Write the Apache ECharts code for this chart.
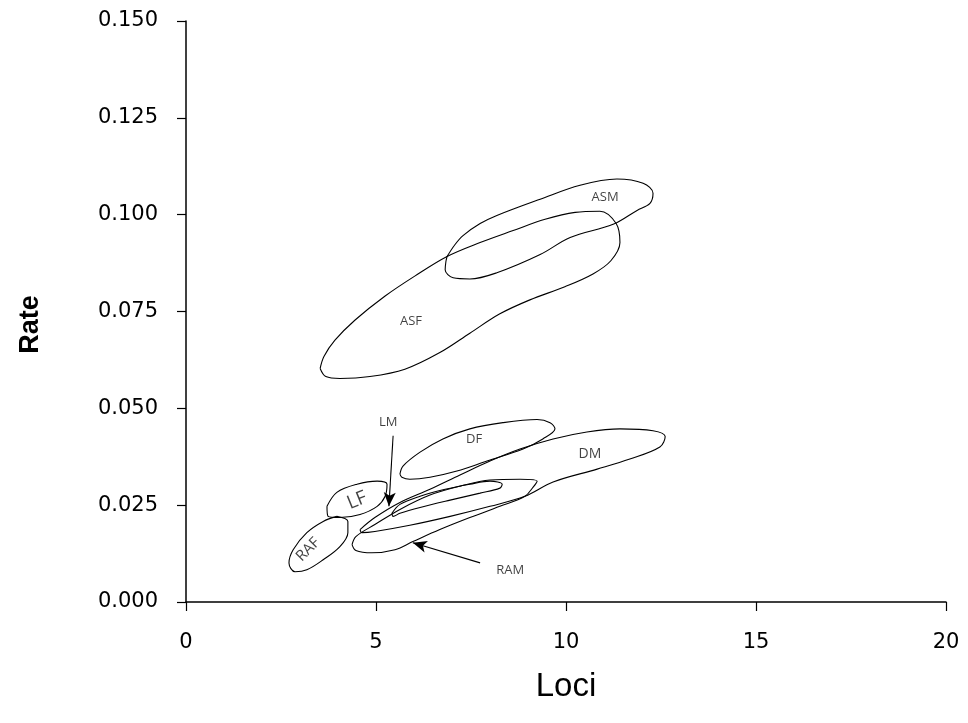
<!DOCTYPE html>
<html>
<head>
<meta charset="utf-8">
<script src="https://cdn.jsdelivr.net/npm/echarts@6/dist/echarts.min.js"></script>
<style>
  html, body { margin: 0; padding: 0; background: #fff; }
  #chart { width: 968px; height: 723px; }
</style>
</head>
<body>
<div id="chart"></div>
<script>
// outlines of each group, [loci, rate] pairs, closed
const asf = [[3.53,0.0603],[3.63,0.0634],[3.92,0.0676],[4.45,0.0728],[5.24,0.0790],[6.03,0.0842],[6.87,0.0892],[7.74,0.0928],[8.61,0.0959],[9.45,0.0988],[10.24,0.1006],[10.89,0.1009],[11.32,0.0977],[11.42,0.0928],[11.18,0.0881],[10.71,0.0847],[9.97,0.0814],[9.05,0.0780],[8.26,0.0744],[7.47,0.0694],[6.68,0.0644],[5.76,0.0601],[4.84,0.0582],[4.05,0.0577],[3.68,0.0582],[3.53,0.0603]]
const asm = [[6.87,0.0892],[7.08,0.0923],[7.29,0.0946],[7.74,0.0977],[8.18,0.0998],[9.32,0.1040],[10.37,0.1076],[11.34,0.1092],[12.03,0.1081],[12.29,0.1055],[12.21,0.1029],[11.87,0.1011],[11.24,0.0975],[10.11,0.0941],[9.32,0.0897],[8.18,0.0850],[7.47,0.0834],[7.03,0.0837],[6.82,0.0858],[6.84,0.0879],[6.87,0.0892]]
const df = [[5.63,0.0330],[5.71,0.0351],[6.16,0.0387],[6.76,0.0421],[7.47,0.0447],[8.34,0.0463],[9.24,0.0471],[9.58,0.0463],[9.71,0.0447],[9.39,0.0421],[8.87,0.0395],[7.92,0.0364],[7.13,0.0338],[6.42,0.0322],[5.89,0.0317],[5.68,0.0322],[5.63,0.0330]]
const dm = [[4.58,0.0187],[4.97,0.0218],[5.63,0.0257],[6.42,0.0291],[7.21,0.0328],[8.00,0.0364],[8.79,0.0395],[9.66,0.0421],[10.55,0.0439],[11.42,0.0447],[12.29,0.0442],[12.61,0.0427],[12.47,0.0400],[11.68,0.0369],[10.82,0.0343],[9.66,0.0310],[8.92,0.0273],[8.00,0.0247],[6.95,0.0221],[5.89,0.0198],[4.97,0.0182],[4.63,0.0179],[4.58,0.0187]]
const lm = [[5.42,0.0229],[5.63,0.0252],[6.16,0.0273],[6.82,0.0291],[7.47,0.0304],[8.00,0.0312],[8.32,0.0304],[8.26,0.0294],[7.74,0.0281],[6.95,0.0263],[6.16,0.0244],[5.63,0.0229],[5.45,0.0221],[5.42,0.0229]]
const ram = [[4.37,0.0148],[4.47,0.0169],[4.97,0.0200],[5.63,0.0239],[6.42,0.0276],[7.21,0.0299],[8.00,0.0315],[8.79,0.0317],[9.24,0.0312],[9.13,0.0296],[8.92,0.0273],[8.26,0.0247],[7.47,0.0218],[6.68,0.0187],[5.97,0.0156],[5.50,0.0135],[4.89,0.0127],[4.47,0.0133],[4.37,0.0148]]
const lf = [[3.71,0.0247],[3.97,0.0283],[4.50,0.0304],[5.03,0.0312],[5.29,0.0304],[5.24,0.0273],[5.03,0.0247],[4.58,0.0226],[4.05,0.0218],[3.74,0.0221],[3.71,0.0247]]
const raf = [[3.97,0.0221],[4.26,0.0208],[4.26,0.0179],[4.05,0.0143],[3.61,0.0109],[3.18,0.0083],[2.87,0.0078],[2.71,0.0101],[2.82,0.0135],[3.18,0.0179],[3.61,0.0208],[3.97,0.0221]]

// group labels: name, loci, rate, rotation, size
const labelNames = ['ASM', 'ASF', 'LM', 'DF', 'DM', 'LF', 'RAF', 'RAM']
const labelPos = [[11.03,0.1045],[5.92,0.0725],[5.32,0.0463],[7.58,0.0421],[10.63,0.0382],[4.50,0.0262],[3.21,0.0135],[8.53,0.0083]]
const labelRot = [0, 0, 0, 0, 0, 22, 45, 0]
const labelSize = [13, 13, 13, 13, 14, 19, 15, 13]

// pointer arrows: from label to outline
const arrowLines = [[[5.45,0.0429],[5.34,0.0247]], [[7.74,0.0101],[5.97,0.0153]]]

const xTicks = { min: 0, max: 20, interval: 5 }
const yTicks = { min: 0, max: 0.15, interval: 0.025 }

const outlines = [asf, asm, df, dm, lm, ram, lf, raf]

const chart = echarts.init(document.getElementById('chart'))

const outlineSeries = outlines.map(pts => ({
	type: 'line',
	data: pts,
	smooth: 0.35,
	symbol: 'none',
	silent: true,
	lineStyle: { color: '#000', width: 1.1 }
}))

const option = {
	animation: false,
	backgroundColor: '#fff',
	grid: { left: 186, right: 22, top: 21, bottom: 121 },
	xAxis: {
		type: 'value',
		min: xTicks.min,
		max: xTicks.max,
		interval: xTicks.interval,
		name: 'Loci',
		nameLocation: 'middle',
		nameGap: 68,
		nameTextStyle: { color: '#000', fontSize: 33, fontFamily: 'Liberation Sans' },
		axisLine: { lineStyle: { color: '#000', width: 1.5 } },
		axisTick: { inside: false, length: 9, lineStyle: { color: '#000', width: 1.2 } },
		axisLabel: { color: '#000', fontSize: 21, margin: 30, fontFamily: 'DejaVu Sans' },
		splitLine: { show: false }
	},
	yAxis: {
		type: 'value',
		min: yTicks.min,
		max: yTicks.max,
		interval: yTicks.interval,
		name: 'Rate',
		nameLocation: 'middle',
		nameGap: 142,
		nameRotate: 90,
		nameTextStyle: { color: '#000', fontSize: 27, fontWeight: 'bold', fontFamily: 'Liberation Sans', padding: [0, 26, 0, 0] },
		axisLine: { lineStyle: { color: '#000', width: 1.5 } },
		axisTick: { inside: false, length: 9, lineStyle: { color: '#000', width: 1.2 } },
		axisLabel: {
			color: '#000', fontSize: 21, margin: 28, fontFamily: 'DejaVu Sans',
			formatter: v => v.toFixed(3)
		},
		splitLine: { show: false }
	},
	series: [
		...outlineSeries,
		{
			type: 'line',
			data: [],
			symbol: 'none',
			silent: true,
			markLine: {
				silent: true,
				symbol: ['none', 'arrow'],
				symbolSize: [9, 14],
				label: { show: false },
				lineStyle: { color: '#000', width: 1.1, type: 'solid' },
				data: arrowLines.map(a => [{ coord: a[0] }, { coord: a[1] }])
			}
		},
		{
			type: 'scatter',
			symbolSize: 0,
			silent: true,
			data: labelNames.map((n, i) => ({
				name: n,
				value: labelPos[i],
				label: {
					show: true,
					position: 'inside',
					formatter: n,
					rotate: labelRot[i],
					fontSize: labelSize[i],
					color: '#111',
					fontFamily: 'Open Sans'
				}
			}))
		}
	]
}

chart.setOption(option)
</script>
</body>
</html>
